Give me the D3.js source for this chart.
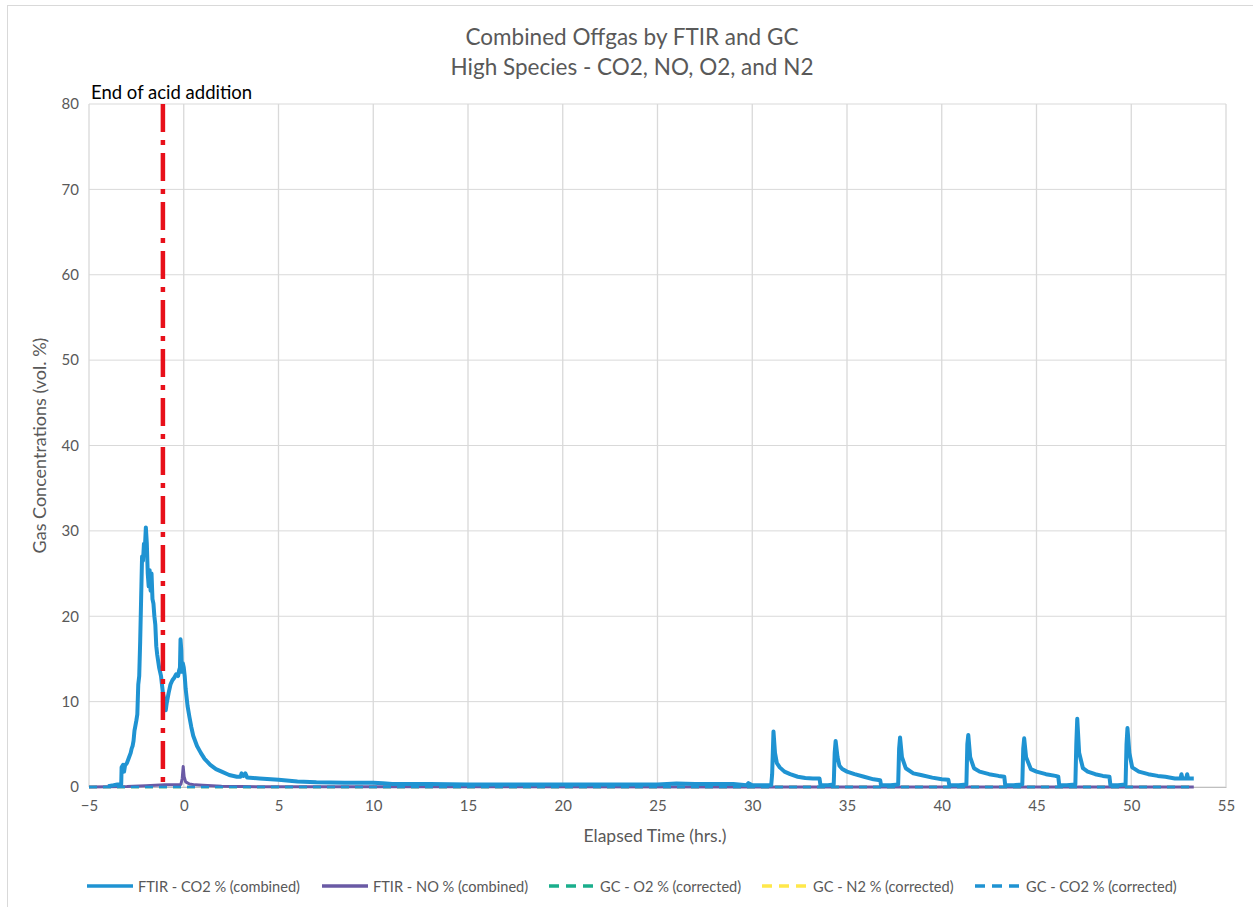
<!DOCTYPE html>
<html><head><meta charset="utf-8">
<script src="https://cdn.jsdelivr.net/npm/d3@7"></script>
<style>body{margin:0;background:#fff;}svg{display:block;font-family:Lato,"Open Sans",sans-serif;}</style>
</head><body>
<svg id="c" width="1253" height="907"></svg>
<script>
const titleLines = ["Combined Offgas by FTIR and GC", "High Species - CO2, NO, O2, and N2"];
const xTicks = [-5,0,5,10,15,20,25,30,35,40,45,50,55];
const yTicks = [0,10,20,30,40,50,60,70,80];
const acidEndTime = -1.1;
const acidLabel = "End of acid addition";
const seriesNames = ["FTIR - CO2 % (combined)","FTIR - NO % (combined)","GC - O2 % (corrected)","GC - N2 % (corrected)","GC - CO2 % (corrected)"];
const co2Series = [[-4.0,0.1],[-3.7,0.2],[-3.5,0.3],[-3.3,0.3],[-3.28,2.3],[-3.2,2.6],[-3.15,1.8],[-3.1,2.5],[-3.0,2.8],[-2.9,3.4],[-2.8,4.0],[-2.75,4.5],[-2.7,4.8],[-2.65,5.4],[-2.6,6.6],[-2.55,7.2],[-2.5,7.8],[-2.45,8.5],[-2.4,12],[-2.35,13],[-2.3,17],[-2.25,22],[-2.2,27],[-2.15,26.5],[-2.1,28.5],[-2.05,28],[-2.0,30.4],[-1.95,28.6],[-1.9,25],[-1.85,23.5],[-1.8,25.4],[-1.75,23],[-1.7,25],[-1.65,22],[-1.6,21.5],[-1.55,20],[-1.5,19],[-1.45,16.5],[-1.4,15.5],[-1.3,14],[-1.2,13],[-1.1,11],[-1.0,10],[-0.95,9],[-0.9,9.8],[-0.8,11],[-0.7,12],[-0.6,12.5],[-0.5,12.8],[-0.4,13.2],[-0.3,13.0],[-0.25,13.6],[-0.2,14],[-0.17,17.3],[-0.13,16],[-0.1,13.5],[-0.05,14.5],[0.0,14],[0.05,13],[0.1,11.5],[0.2,9.5],[0.3,8.2],[0.4,7],[0.5,6],[0.7,4.8],[0.9,4],[1.1,3.3],[1.4,2.6],[1.7,2.1],[2.0,1.8],[2.4,1.4],[2.8,1.2],[3.0,1.2],[3.05,1.6],[3.15,1.3],[3.25,1.6],[3.35,1.1],[4.0,1.0],[5.0,0.85],[6.0,0.65],[7.0,0.55],[8.5,0.5],[10.0,0.5],[10.5,0.45],[11.0,0.35],[13,0.35],[15,0.3],[18,0.3],[20,0.3],[22,0.3],[25,0.3],[26,0.4],[27,0.35],[28,0.35],[29,0.35],[29.7,0.2],[29.8,0.45],[30,0.2],[31.0,0.2],[31.05,1.5],[31.12,6.5],[31.2,4],[31.3,2.8],[31.45,2.3],[31.7,1.8],[32.0,1.5],[32.4,1.2],[32.8,1.05],[33.2,1.0],[33.55,1.0],[33.6,0.2],[34.0,0.2],[34.3,0.3],[34.35,4],[34.4,5.4],[34.5,3.5],[34.6,2.5],[34.75,2.1],[35.0,1.8],[35.4,1.5],[35.9,1.2],[36.4,0.9],[36.75,0.8],[36.8,0.2],[37.3,0.2],[37.7,0.3],[37.75,4.5],[37.8,5.8],[37.9,3.5],[38.1,2.2],[38.5,1.6],[38.9,1.4],[39.5,1.1],[40.0,0.9],[40.35,0.85],[40.4,0.2],[40.9,0.2],[41.3,0.3],[41.35,5],[41.4,6.1],[41.5,3.5],[41.7,2.2],[42.0,1.8],[42.5,1.5],[43.0,1.3],[43.3,1.2],[43.35,0.2],[43.8,0.2],[44.25,0.3],[44.3,4.5],[44.35,5.7],[44.45,3.5],[44.7,2.1],[45.0,1.8],[45.5,1.5],[46.0,1.3],[46.15,1.2],[46.2,0.2],[46.6,0.2],[47.05,0.3],[47.1,5],[47.15,8.0],[47.25,4],[47.45,2.2],[47.7,1.8],[48.1,1.5],[48.5,1.3],[48.85,1.2],[48.9,0.2],[49.3,0.2],[49.7,0.3],[49.75,5],[49.8,6.9],[49.9,4],[50.05,2.3],[50.4,1.8],[50.9,1.5],[51.4,1.3],[51.8,1.2],[52.3,1.0],[52.6,1.0],[52.65,1.5],[52.7,1.0],[52.9,1.0],[52.95,1.5],[53.0,1.0],[53.3,1.0]];
const noSeries = [[-5,0],[-3,0.05],[-2,0.15],[-1.5,0.2],[-1,0.25],[-0.5,0.25],[-0.15,0.3],[-0.08,1.0],[-0.03,2.4],[0.02,1.2],[0.1,0.6],[0.3,0.35],[0.6,0.25],[1,0.2],[2,0.1],[3,0.05],[5,0.02],[53.3,0]];
const gcO2Series = [[-5,0],[10,0],[30,0],[53.3,0]];
const gcN2Series = [[-5,0],[10,0],[30,0],[53.3,0]];
const gcCO2Series = [[-5,0],[10,0],[30,0],[53.3,0]];

const colors = ["#1f93d2","#6a5aa5","#1aae8c","#ffe84a","#1f93d2"];
const svg = d3.select("#c");
const M = {l:89, r:1226, t:104, b:787};
const x = d3.scaleLinear().domain([-5,55]).range([M.l,M.r]);
const y = d3.scaleLinear().domain([0,80]).range([M.b,M.t]);
const textCol = "#595959";

svg.append("rect").attr("x",7.5).attr("y",5.5).attr("width",1280).attr("height",940).attr("fill","#fff").attr("stroke","#d9d9d9");

// gridlines
svg.append("g").selectAll("line").data(yTicks).join("line")
  .attr("x1",M.l).attr("x2",M.r).attr("y1",d=>y(d)).attr("y2",d=>y(d)).attr("stroke","#d9d9d9").attr("stroke-width",1);
svg.append("g").selectAll("line").data(xTicks).join("line")
  .attr("y1",M.t).attr("y2",M.b).attr("x1",d=>x(d)).attr("x2",d=>x(d)).attr("stroke","#d9d9d9").attr("stroke-width",1.3);

// axes
const xAxis = svg.append("g").attr("transform",`translate(0,${M.b})`).call(d3.axisBottom(x).tickValues(xTicks).tickSize(0).tickPadding(13));
xAxis.select(".domain").attr("stroke","#bfbfbf");
xAxis.selectAll("text").attr("fill",textCol).style("font-size","15px").style("font-family","Lato");
const yAxis = svg.append("g").attr("transform",`translate(${M.l},0)`).call(d3.axisLeft(y).tickValues(yTicks).tickSize(0).tickPadding(10));
yAxis.select(".domain").remove();
yAxis.selectAll("text").attr("fill",textCol).style("font-size","15px").style("font-family","Lato");

// titles
svg.append("g").selectAll("text").data(titleLines).join("text")
  .attr("x",632).attr("y",(d,i)=>45+i*30).attr("text-anchor","middle").attr("fill",textCol)
  .style("font-size","22.5px").text(d=>d);
svg.append("text").attr("x",655).attr("y",842).attr("text-anchor","middle").attr("fill",textCol).style("font-size","17.5px").text("Elapsed Time (hrs.)");
svg.append("text").attr("transform",`translate(46,${(M.t+M.b)/2}) rotate(-90)`).attr("text-anchor","middle").attr("fill",textCol).style("font-size","18px").text("Gas Concentrations (vol. %)");

const line = d3.line().x(d=>x(d[0])).y(d=>y(d[1]));
// GC dashed
[[gcO2Series,2],[gcN2Series,3]].forEach(([s,i])=>{
  svg.append("path").datum(s).attr("d",line).attr("fill","none").attr("stroke",colors[i]).attr("stroke-width",2.5).attr("stroke-dasharray","8,6");
});
svg.append("path").datum(noSeries).attr("d",line).attr("fill","none").attr("stroke",colors[1]).attr("stroke-width",3).attr("stroke-linejoin","round");
svg.append("path").datum(co2Series).attr("d",line).attr("fill","none").attr("stroke",colors[0]).attr("stroke-width",4).attr("stroke-linejoin","round");
svg.append("path").datum(gcCO2Series).attr("d",line).attr("fill","none").attr("stroke",colors[4]).attr("stroke-width",2.5).attr("stroke-dasharray","8,6");

// acid addition marker
svg.append("line").attr("x1",x(acidEndTime)).attr("x2",x(acidEndTime)).attr("y1",M.t).attr("y2",M.b)
  .attr("stroke","#e8101a").attr("stroke-width",4.5).attr("stroke-dasharray","28,8,5,8");
svg.append("text").attr("x",91).attr("y",99).attr("fill","#000").style("font-size","18.5px").text(acidLabel);

// legend
const legX = [87,322,549,762,975];
const dashes = [null,null,"10,7","10,7","10,7"];
const lg = svg.append("g").attr("transform","translate(0,886)");
seriesNames.forEach((n,i)=>{
  const g = lg.append("g").attr("transform",`translate(${legX[i]},0)`);
  g.append("line").attr("x1",0).attr("x2",46).attr("y1",0).attr("y2",0).attr("stroke",colors[i]).attr("stroke-width",3.5)
    .attr("stroke-dasharray",dashes[i]);
  g.append("text").attr("x",51).attr("y",5.5).attr("fill",textCol).style("font-size","14.6px").text(n);
});
</script>
</body></html>
